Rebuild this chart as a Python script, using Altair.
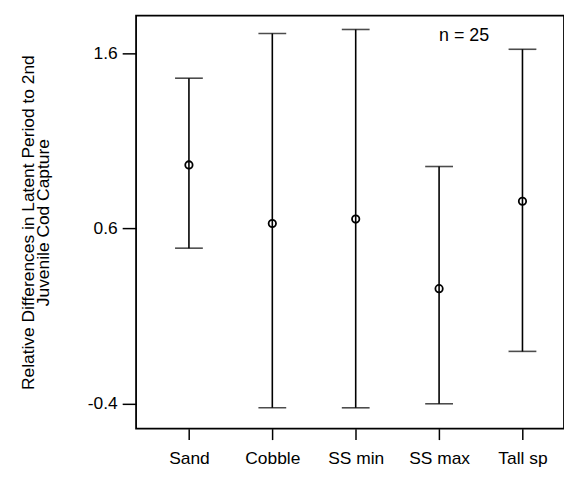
import altair as alt
import pandas as pd

categories = ["Sand", "Cobble", "SS min", "SS max", "Tall sp"]
means = [0.963, 0.629, 0.654, 0.257, 0.756]
lows = [0.488, -0.423, -0.423, -0.400, -0.101]
highs = [1.458, 1.713, 1.736, 0.954, 1.623]
y_ticks = [-0.4, 0.6, 1.6]
note_text = ["n = 25"]
note_cat = ["SS max"]
note_y = [1.70]

df = pd.DataFrame({"cat": categories, "mean": means, "low": lows, "high": highs})
note = pd.DataFrame({"cat": note_cat, "y": note_y, "label": note_text})

FONT = "Liberation Sans"
y_title = ["Relative Differences in Latent Period to 2nd", "Juvenile Cod Capture"]

xenc = alt.X(
    "cat:N",
    sort=categories,
    scale=alt.Scale(type="point", padding=0.566, align=0.56),
    axis=alt.Axis(title=None, labelAngle=0, tickSize=11, labelPadding=10,
                  domain=False, grid=False, labelFontSize=17.5),
)
yscale = alt.Scale(domain=[-0.542, 1.815], nice=False, zero=False)
yaxis = alt.Axis(title=y_title, values=y_ticks, tickSize=14,
                 labelExpr="datum.value < 0 ? '-' + format(-datum.value, '.1f') : format(datum.value, '.1f')",
                 labelPadding=5, domain=False, grid=False, labelFontSize=17.5,
                 titleFontSize=17.5, titleFontWeight="normal", titlePadding=35,
                 titleLineHeight=15)

base = alt.Chart(df)

rules = base.mark_rule(color="black", strokeWidth=1.6).encode(
    x=xenc,
    y=alt.Y("low:Q", scale=yscale, axis=yaxis),
    y2="high:Q",
)
cap_low = base.mark_tick(color="black", size=28, thickness=1.6).encode(
    x=xenc, y=alt.Y("low:Q", scale=yscale, axis=yaxis)
)
cap_high = base.mark_tick(color="black", size=28, thickness=1.6).encode(
    x=xenc, y=alt.Y("high:Q", scale=yscale, axis=yaxis)
)
points = base.mark_point(shape="circle", filled=False, color="black",
                         size=55, strokeWidth=1.8, opacity=1).encode(
    x=xenc, y=alt.Y("mean:Q", scale=yscale, axis=yaxis)
)
text = alt.Chart(note).mark_text(align="left", baseline="middle", fontSize=18,
                                 font=FONT, color="black").encode(
    x=xenc, y=alt.Y("y:Q", scale=yscale, axis=yaxis), text="label:N"
)

chart = alt.layer(rules, cap_low, cap_high, points, text).properties(
    width=431,
    height=416,
    background="white",
    autosize=alt.AutoSizeParams(type="none"),
    padding={"left": 129, "top": 6, "right": 0, "bottom": 47},
).configure_view(
    stroke="black", strokeWidth=1.8
).configure_axis(
    labelFont=FONT, titleFont=FONT, labelColor="black", titleColor="black",
    tickColor="black", tickWidth=1.5
)

chart.save("out.html", embed_options={"renderer": "svg", "actions": False})
